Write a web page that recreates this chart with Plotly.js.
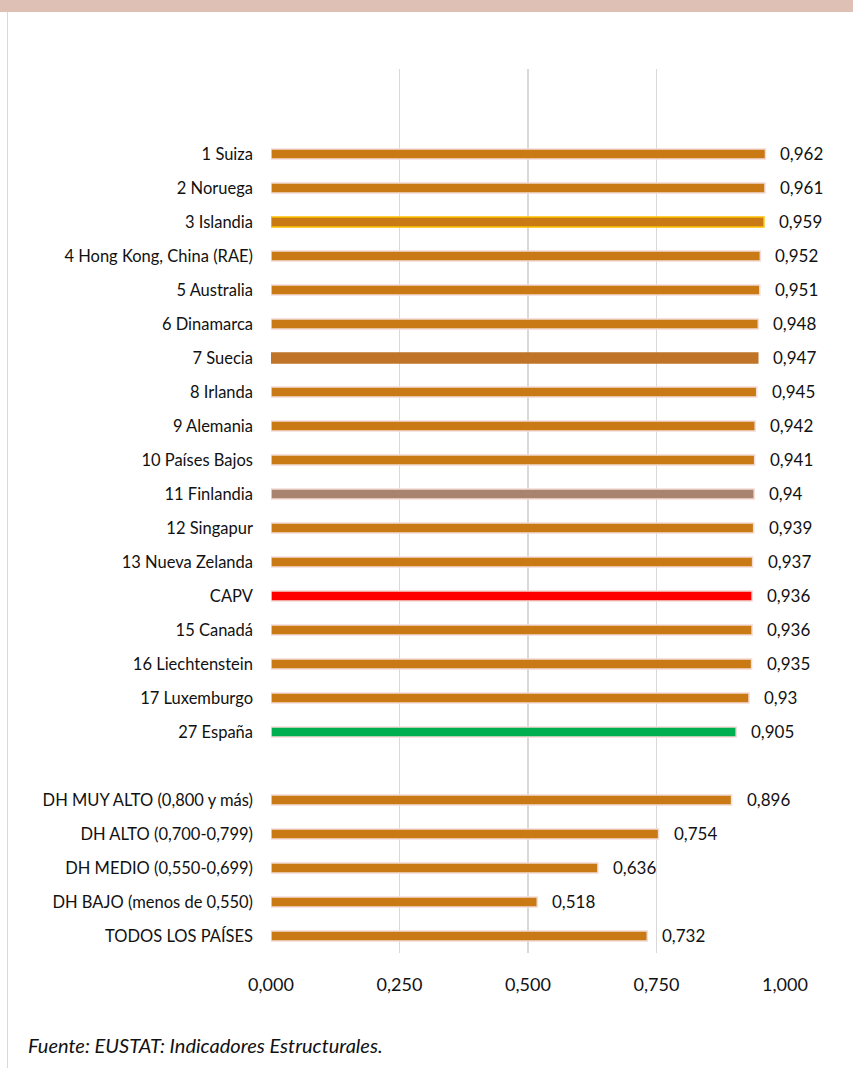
<!DOCTYPE html>
<html>
<head>
<meta charset="utf-8">
<script src="https://cdn.plot.ly/plotly-3.0.1.min.js"></script>
<style>
  html, body { margin: 0; padding: 0; background: #fff; }
  #wrap { position: relative; width: 853px; height: 1068px; overflow: hidden; }
  #band { position: absolute; left: 0; top: 0; width: 853px; height: 12px; background: #dfc0b4; }
  #lline { position: absolute; left: 7px; top: 12px; width: 1px; height: 1056px; background: #d9d9d9; }
  #chart { position: absolute; left: 0; top: 0; width: 853px; height: 1068px; }
  #src { position: absolute; left: 28px; top: 1033px; font-family: Lato, sans-serif; font-style: italic; font-size: 20px; color: #111; }
</style>
</head>
<body>
<div id="wrap">
  <div id="chart"></div>
  <div id="band"></div>
  <div id="lline"></div>
  <div id="src">Fuente: EUSTAT: Indicadores Estructurales.</div>
</div>
<script>
const categories = [
  "1 Suiza", "2 Noruega", "3 Islandia", "4 Hong Kong, China (RAE)", "5 Australia",
  "6 Dinamarca", "7 Suecia", "8 Irlanda", "9 Alemania", "10 Países Bajos",
  "11 Finlandia", "12 Singapur", "13 Nueva Zelanda", "CAPV", "15 Canadá",
  "16 Liechtenstein", "17 Luxemburgo", "27 España", " ",
  "DH MUY ALTO (0,800 y más)", "DH ALTO (0,700-0,799)", "DH MEDIO (0,550-0,699)",
  "DH BAJO (menos de 0,550)", "TODOS LOS PAÍSES"
];
const values = [
  0.962, 0.961, 0.959, 0.952, 0.951,
  0.948, 0.947, 0.945, 0.942, 0.941,
  0.94, 0.939, 0.937, 0.936, 0.936,
  0.935, 0.93, 0.905, null,
  0.896, 0.754, 0.636, 0.518, 0.732
];
const barColors = [
  "#c97a14", "#c97a14", "#c97a14", "#c97a14", "#c97a14",
  "#c97a14", "#c07428", "#c97a14", "#c97a14", "#c97a14",
  "#a8846e", "#c97a14", "#c97a14", "#ff0000", "#c97a14",
  "#c97a14", "#c97a14", "#00b050", "#ffffff",
  "#c97a14", "#c97a14", "#c97a14", "#c97a14", "#c97a14"
];
const outlineColors = [
  "#f2dcd5", "#f2dcd5", "#ffc000", "#f2dcd5", "#f2dcd5",
  "#f2dcd5", "#c07428", "#f2dcd5", "#f2dcd5", "#f2dcd5",
  "#f2dcd5", "#f2dcd5", "#f2dcd5", "#f2dcd5", "#f2dcd5",
  "#f2dcd5", "#f2dcd5", "#f2dcd5", "#ffffff",
  "#f2dcd5", "#f2dcd5", "#f2dcd5", "#f2dcd5", "#f2dcd5"
];
const tickVals = [0, 0.25, 0.5, 0.75, 1.0];

const FONT = "Lato, 'Open Sans', sans-serif";

const trace = {
  type: "bar",
  orientation: "h",
  x: values,
  y: categories,
  width: 0.3,
  marker: { color: barColors, line: { color: outlineColors, width: 1.5 } },
  hoverinfo: "skip",
  cliponaxis: false
};

const annotations = [];
values.forEach((v, i) => {
  if (v === null) return;
  annotations.push({
    x: v, y: categories[i], xref: "x", yref: "y",
    text: String(v).replace(".", ","),
    showarrow: false, xanchor: "left", yanchor: "middle",
    xshift: 13, yshift: 1,
    font: { family: FONT, size: 17, color: "#111" }
  });
});

const layout = {
  width: 853, height: 1068,
  margin: { l: 271, r: 68, t: 69, b: 115 },
  paper_bgcolor: "rgba(0,0,0,0)",
  plot_bgcolor: "rgba(0,0,0,0)",
  separators: ",.",
  showlegend: false,
  font: { family: FONT, size: 16, color: "#111" },
  xaxis: {
    range: [0, 1],
    tickvals: tickVals,
    tickformat: ".3f",
    showgrid: true, gridcolor: "#d9d9d9", gridwidth: 1.5,
    zeroline: false, showline: false, ticks: "",
    ticklabelstandoff: 19,
    tickfont: { family: FONT, size: 18, color: "#111" },
    fixedrange: true
  },
  yaxis: {
    type: "category",
    categoryorder: "array",
    categoryarray: categories,
    range: [23.5, -2.5],
    showgrid: false, zeroline: false, showline: false, ticks: "",
    ticklabelstandoff: 17,
    tickfont: { family: FONT, size: 16.5, color: "#111" },
    fixedrange: true
  },
  annotations: annotations
};

Plotly.newPlot("chart", [trace], layout, { displayModeBar: false, staticPlot: true });
</script>
</body>
</html>
